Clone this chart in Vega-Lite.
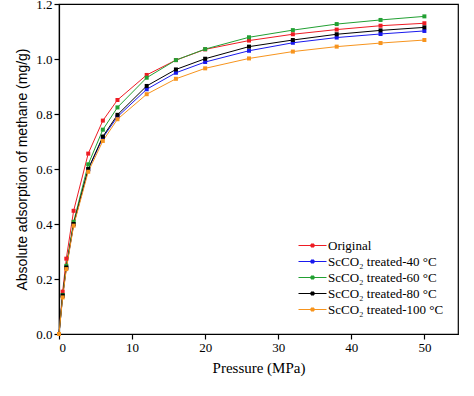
{
  "$schema": "https://vega.github.io/schema/vega-lite/v6.json",
  "autosize": {"type": "none"},
  "padding": {"left": 59, "top": 4, "right": 16, "bottom": 62},
  "width": 399,
  "height": 330,
  "config": {
    "font": "Liberation Serif",
    "view": {"stroke": "#000", "strokeWidth": 1.2},
    "axis": {"domainColor": "#000", "tickColor": "#000", "labelColor": "#000", "titleColor": "#000", "grid": false, "labelFontSize": 13, "titleFontSize": 15, "titleFontWeight": "normal", "domainWidth": 1.2, "tickWidth": 1.2, "tickSize": 5}
  },
  "data": {"values": [
    {"s": "Original", "p": 0, "a": 0}, {"s": "Original", "p": 0.5, "a": 0.154}, {"s": "Original", "p": 1, "a": 0.274}, {"s": "Original", "p": 2, "a": 0.448}, {"s": "Original", "p": 4, "a": 0.656}, {"s": "Original", "p": 6, "a": 0.776}, {"s": "Original", "p": 8, "a": 0.851}, {"s": "Original", "p": 12, "a": 0.942}, {"s": "Original", "p": 16, "a": 0.996}, {"s": "Original", "p": 20, "a": 1.035}, {"s": "Original", "p": 26, "a": 1.067}, {"s": "Original", "p": 32, "a": 1.090}, {"s": "Original", "p": 38, "a": 1.107}, {"s": "Original", "p": 44, "a": 1.121}, {"s": "Original", "p": 50, "a": 1.130},
    {"s": "ScCO₂ treated-40 °C", "p": 0, "a": 0}, {"s": "ScCO₂ treated-40 °C", "p": 0.5, "a": 0.138}, {"s": "ScCO₂ treated-40 °C", "p": 1, "a": 0.240}, {"s": "ScCO₂ treated-40 °C", "p": 2, "a": 0.398}, {"s": "ScCO₂ treated-40 °C", "p": 4, "a": 0.598}, {"s": "ScCO₂ treated-40 °C", "p": 6, "a": 0.714}, {"s": "ScCO₂ treated-40 °C", "p": 8, "a": 0.790}, {"s": "ScCO₂ treated-40 °C", "p": 12, "a": 0.890}, {"s": "ScCO₂ treated-40 °C", "p": 16, "a": 0.950}, {"s": "ScCO₂ treated-40 °C", "p": 20, "a": 0.989}, {"s": "ScCO₂ treated-40 °C", "p": 26, "a": 1.030}, {"s": "ScCO₂ treated-40 °C", "p": 32, "a": 1.059}, {"s": "ScCO₂ treated-40 °C", "p": 38, "a": 1.078}, {"s": "ScCO₂ treated-40 °C", "p": 44, "a": 1.091}, {"s": "ScCO₂ treated-40 °C", "p": 50, "a": 1.102},
    {"s": "ScCO₂ treated-60 °C", "p": 0, "a": 0}, {"s": "ScCO₂ treated-60 °C", "p": 0.5, "a": 0.142}, {"s": "ScCO₂ treated-60 °C", "p": 1, "a": 0.248}, {"s": "ScCO₂ treated-60 °C", "p": 2, "a": 0.408}, {"s": "ScCO₂ treated-60 °C", "p": 4, "a": 0.617}, {"s": "ScCO₂ treated-60 °C", "p": 6, "a": 0.743}, {"s": "ScCO₂ treated-60 °C", "p": 8, "a": 0.824}, {"s": "ScCO₂ treated-60 °C", "p": 12, "a": 0.932}, {"s": "ScCO₂ treated-60 °C", "p": 16, "a": 0.996}, {"s": "ScCO₂ treated-60 °C", "p": 20, "a": 1.036}, {"s": "ScCO₂ treated-60 °C", "p": 26, "a": 1.079}, {"s": "ScCO₂ treated-60 °C", "p": 32, "a": 1.105}, {"s": "ScCO₂ treated-60 °C", "p": 38, "a": 1.127}, {"s": "ScCO₂ treated-60 °C", "p": 44, "a": 1.142}, {"s": "ScCO₂ treated-60 °C", "p": 50, "a": 1.155},
    {"s": "ScCO₂ treated-80 °C", "p": 0, "a": 0}, {"s": "ScCO₂ treated-80 °C", "p": 0.5, "a": 0.140}, {"s": "ScCO₂ treated-80 °C", "p": 1, "a": 0.242}, {"s": "ScCO₂ treated-80 °C", "p": 2, "a": 0.400}, {"s": "ScCO₂ treated-80 °C", "p": 4, "a": 0.600}, {"s": "ScCO₂ treated-80 °C", "p": 6, "a": 0.718}, {"s": "ScCO₂ treated-80 °C", "p": 8, "a": 0.797}, {"s": "ScCO₂ treated-80 °C", "p": 12, "a": 0.902}, {"s": "ScCO₂ treated-80 °C", "p": 16, "a": 0.962}, {"s": "ScCO₂ treated-80 °C", "p": 20, "a": 1.001}, {"s": "ScCO₂ treated-80 °C", "p": 26, "a": 1.045}, {"s": "ScCO₂ treated-80 °C", "p": 32, "a": 1.069}, {"s": "ScCO₂ treated-80 °C", "p": 38, "a": 1.090}, {"s": "ScCO₂ treated-80 °C", "p": 44, "a": 1.104}, {"s": "ScCO₂ treated-80 °C", "p": 50, "a": 1.115},
    {"s": "ScCO₂ treated-100 °C", "p": 0, "a": 0}, {"s": "ScCO₂ treated-100 °C", "p": 0.5, "a": 0.133}, {"s": "ScCO₂ treated-100 °C", "p": 1, "a": 0.236}, {"s": "ScCO₂ treated-100 °C", "p": 2, "a": 0.394}, {"s": "ScCO₂ treated-100 °C", "p": 4, "a": 0.590}, {"s": "ScCO₂ treated-100 °C", "p": 6, "a": 0.702}, {"s": "ScCO₂ treated-100 °C", "p": 8, "a": 0.781}, {"s": "ScCO₂ treated-100 °C", "p": 12, "a": 0.872}, {"s": "ScCO₂ treated-100 °C", "p": 16, "a": 0.928}, {"s": "ScCO₂ treated-100 °C", "p": 20, "a": 0.966}, {"s": "ScCO₂ treated-100 °C", "p": 26, "a": 1.002}, {"s": "ScCO₂ treated-100 °C", "p": 32, "a": 1.027}, {"s": "ScCO₂ treated-100 °C", "p": 38, "a": 1.045}, {"s": "ScCO₂ treated-100 °C", "p": 44, "a": 1.058}, {"s": "ScCO₂ treated-100 °C", "p": 50, "a": 1.069}
  ]},
  "encoding": {
    "x": {"field": "p", "type": "quantitative", "title": "Pressure (MPa)", "scale": {"domain": [0, 54.6], "nice": false}, "axis": {"values": [0, 10, 20, 30, 40, 50], "format": "d", "titlePadding": 6}},
    "y": {"field": "a", "type": "quantitative", "title": "Absolute adsorption of methane (mg/g)", "scale": {"domain": [0, 1.2], "nice": false}, "axis": {"values": [0, 0.2, 0.4, 0.6, 0.8, 1.0, 1.2], "format": ".1f", "titlePadding": 6, "titleFont": "Liberation Sans", "titleFontSize": 14}},
    "color": {"field": "s", "type": "nominal", "sort": ["Original", "ScCO₂ treated-40 °C", "ScCO₂ treated-60 °C", "ScCO₂ treated-80 °C", "ScCO₂ treated-100 °C"],
      "scale": {"domain": ["Original", "ScCO₂ treated-40 °C", "ScCO₂ treated-60 °C", "ScCO₂ treated-80 °C", "ScCO₂ treated-100 °C"], "range": ["#ee1c24", "#1a1aee", "#22a033", "#000000", "#f7941d"]},
      "legend": {"title": null, "orient": "none", "legendX": 247, "legendY": 235, "labelFontSize": 13, "labelColor": "#000", "rowPadding": 2, "labelOffset": 9,
        "symbolType": "M-2.8,0L2.8,0M-0.3,-0.3L0.3,-0.3L0.3,0.3L-0.3,0.3Z", "symbolSize": 100, "symbolStrokeWidth": 1,
        "encode": {"symbols": {"update": {"fill": {"scale": "color", "field": "value"}, "stroke": {"scale": "color", "field": "value"}}}}}}
  },
  "layer": [
    {"mark": {"type": "line", "strokeWidth": 1}},
    {"mark": {"type": "point", "shape": "square", "filled": true, "size": 16, "opacity": 1}}
  ]
}
